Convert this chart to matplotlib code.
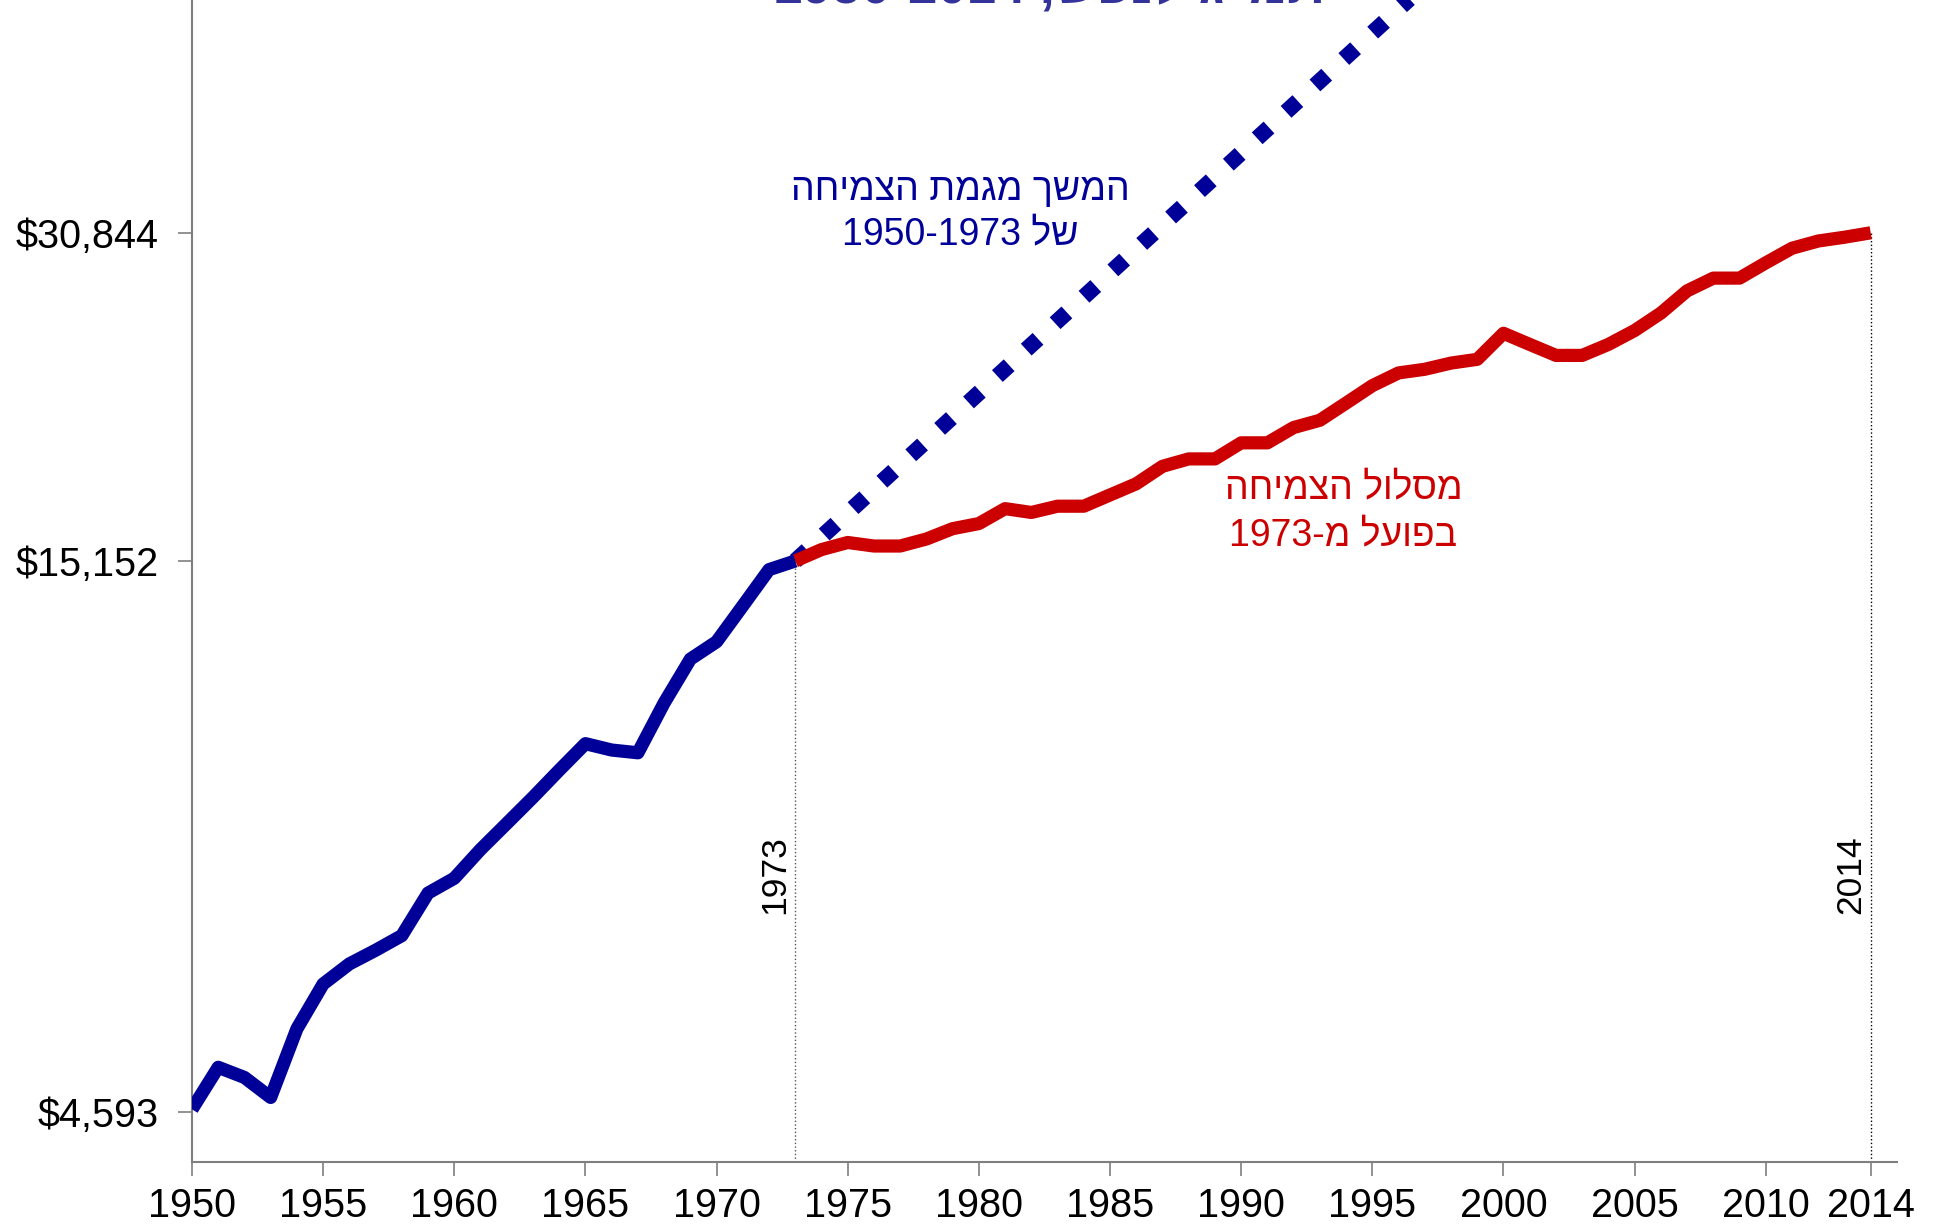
import re
import matplotlib
matplotlib.use("Agg")
import matplotlib.pyplot as plt
from matplotlib.ticker import FixedLocator, NullLocator

plt.rcParams['font.family'] = ['Liberation Sans', 'DejaVu Sans']

# GDP per capita (log scale)
years_pre = list(range(1950, 1974))
gdp_pre = [4620, 5060, 4950, 4740, 5500, 6060, 6330, 6520, 6730, 7380,
           7620, 8110, 8580, 9080, 9630, 10200, 10060, 10000, 11140, 12250,
           12720, 13750, 14870, 15152]

years_post = list(range(1973, 2015))
gdp_post = [15152, 15530, 15770, 15650, 15650, 15890, 16250, 16430, 16970, 16830,
            17060, 17060, 17480, 17910, 18600, 18900, 18900, 19570, 19570, 20230,
            20550, 21330, 22150, 22770, 22950, 23260, 23450, 24810, 24220, 23650,
            23650, 24220, 24960, 25920, 27200, 27960, 27960, 28900, 29830, 30300,
            30550, 30844]

# continuation of the 1950-1973 trend (straight on a log axis)
proj_years = [1973, 2014]
proj_values = [15152, 127700]

y_ticks = [4593, 15152, 30844]
y_tick_labels = ['$4,593', '$15,152', '$30,844']
x_ticks = [1950, 1955, 1960, 1965, 1970, 1975, 1980, 1985, 1990, 1995,
           2000, 2005, 2010, 2014]

title_text = 'תמ"ג לנפש, 1950-2014'
trend_text = 'המשך מגמת הצמיחה\nשל 1950-1973'
actual_text = 'מסלול הצמיחה\nבפועל מ-1973'

BLUE = '#000099'
RED = '#cc0000'


def visual(s):
    # matplotlib has no bidi support: flip the Hebrew, keep numbers readable
    out = []
    for line in s.split('\n'):
        r = line[::-1]
        r = re.sub(r'\d[\d,.\-]*\d|\d', lambda m: m.group(0)[::-1], r)
        out.append(r)
    return '\n'.join(out)


fig = plt.figure(figsize=(19.53, 12.24), dpi=100)
ax = fig.add_axes([0.0983, 0.0507, 0.873, 0.9493])
ax.set_yscale('log')

ax.plot(proj_years, proj_values, color=BLUE, lw=11.5,
        linestyle=(0, (1, 1.45)), dash_capstyle='butt', zorder=2)
ax.plot(years_post, gdp_post, color=RED, lw=9.5,
        solid_joinstyle='round', solid_capstyle='butt', zorder=3)
ax.plot(years_pre, gdp_pre, color=BLUE, lw=9.5,
        solid_joinstyle='round', solid_capstyle='butt', zorder=4)

# marker lines for 1973 and 2014
ax.plot([1973, 1973], [4122, gdp_post[0]], color='#555555', lw=1, ls=':', zorder=1)
ax.plot([2014, 2014], [4122, gdp_post[-1]], color='black', lw=1, ls=':', zorder=1)
ax.text(1972.85, 7680, '1973', rotation=90, ha='right', va='center', fontsize=25.5)
ax.text(2013.85, 7680, '2014', rotation=90, ha='right', va='center', fontsize=25.5)

ax.set_xlim(1950, 2015)
ax.set_ylim(4122, 51070)
ax.yaxis.set_major_locator(FixedLocator(y_ticks))
ax.yaxis.set_minor_locator(NullLocator())
ax.set_yticklabels(y_tick_labels)
ax.set_xticks(x_ticks)
ax.tick_params(axis='both', labelsize=28.5, color='#7f7f7f', length=10, width=1.2)
ax.tick_params(axis='y', pad=14)
ax.tick_params(axis='x', pad=8)

for side in ['top', 'right']:
    ax.spines[side].set_visible(False)
for side in ['left', 'bottom']:
    ax.spines[side].set_color('#7f7f7f')
    ax.spines[side].set_linewidth(1.5)

ax.text(1979.3, 32250, visual(trend_text), color=BLUE, fontsize=27,
        ha='center', va='center', linespacing=1.32)
ax.text(1993.9, 16840, visual(actual_text), color=RED, fontsize=27,
        ha='center', va='center', linespacing=1.38)

fig.text(0.537, 0.9975, visual(title_text), color='#333399', fontsize=38,
         fontweight='bold', ha='center', va='baseline')

fig.savefig('out.png', dpi=100)
